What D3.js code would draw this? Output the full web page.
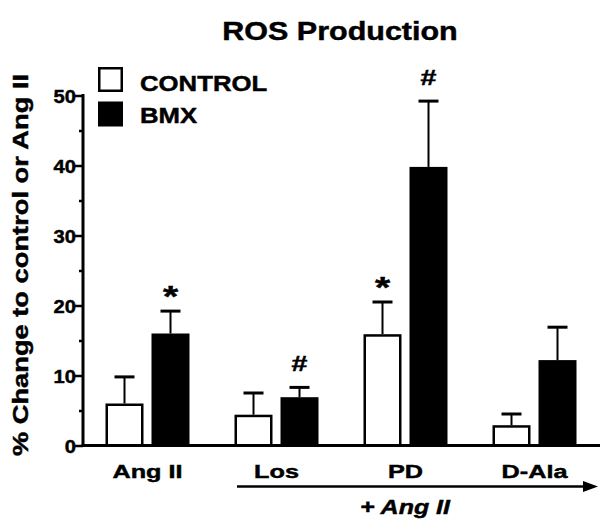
<!DOCTYPE html>
<html>
<head>
<meta charset="utf-8">
<script src="https://cdn.jsdelivr.net/npm/d3@7"></script>
<style>
html,body{margin:0;padding:0;background:#fff;}
svg{display:block;}
text{font-family:"Liberation Sans",Arial,Helvetica,sans-serif;font-weight:bold;fill:#000;stroke:#000;stroke-width:0.45px;}
</style>
</head>
<body>
<svg id="chart" width="600" height="522"></svg>
<script>
// ---- data ----
const categories = ["Ang II", "Los", "PD", "D-Ala"];
const seriesNames = ["CONTROL", "BMX"];
const controlValues = [6.0, 4.4, 15.9, 2.9];
const controlErrors = [3.8, 3.1, 4.6, 1.6];
const bmxValues = [16.0, 6.9, 39.8, 12.2];
const bmxErrors = [3.2, 1.4, 9.4, 4.7];
const yTicks = [0, 10, 20, 30, 40, 50];
const annotations = [
  {cat: "Ang II", series: "BMX", mark: "*"},
  {cat: "Los", series: "BMX", mark: "#"},
  {cat: "PD", series: "CONTROL", mark: "*"},
  {cat: "PD", series: "BMX", mark: "#"}
];
const titleText = "ROS Production";
const yLabel = "% Change to control or Ang II";
const groupLabel = "+ Ang II";

const rows = [];
categories.forEach((c, i) => {
  rows.push({cat: c, series: "CONTROL", value: controlValues[i], err: controlErrors[i]});
  rows.push({cat: c, series: "BMX", value: bmxValues[i], err: bmxErrors[i]});
});
const fillOf = {CONTROL: "#fff", BMX: "#000"};

const svg = d3.select("#chart");

function addText(g, str, x, y, size, stretch, anchor, extra) {
  const t = g.append("text")
    .attr("transform", `translate(${x},${y})` + (extra || "") + ` scale(${stretch},1)`)
    .attr("text-anchor", anchor || "start")
    .style("font-size", size + "px")
    .text(str);
  return t;
}

// ---- scales ----
const y = d3.scaleLinear().domain([0, 50]).range([445.5, 95.5]);
const x0 = d3.scaleBand().domain(categories).range([83, 599]).paddingInner(0).paddingOuter(0);
const groupW = 84;
const x1 = d3.scaleBand().domain(seriesNames).range([0, groupW]).paddingInner(0.174).paddingOuter(0);
const barX = d => x0(d.cat) + (x0.bandwidth() - groupW) / 2 + x1(d.series);
const barC = d => barX(d) + x1.bandwidth() / 2;

// ---- bars ----
const sw = 2.5;
svg.append("g").selectAll("rect").data(rows).join("rect")
  .attr("x", d => barX(d) + sw / 2)
  .attr("width", x1.bandwidth() - sw)
  .attr("y", d => y(d.value) + sw / 2)
  .attr("height", d => y(0) - y(d.value) - sw / 2)
  .attr("fill", d => fillOf[d.series])
  .attr("stroke", "#000")
  .attr("stroke-width", sw);

// ---- error bars ----
const eb = svg.append("g");
eb.selectAll("line.v").data(rows).join("line").attr("class", "v")
  .attr("x1", barC).attr("x2", barC)
  .attr("y1", d => y(d.value)).attr("y2", d => y(d.value + d.err))
  .attr("stroke", "#000").attr("stroke-width", 2);
eb.selectAll("line.c").data(rows).join("line").attr("class", "c")
  .attr("x1", d => barC(d) - 10).attr("x2", d => barC(d) + 10)
  .attr("y1", d => y(d.value + d.err)).attr("y2", d => y(d.value + d.err))
  .attr("stroke", "#000").attr("stroke-width", 3);

// ---- axes ----
const yAxis = d3.axisLeft(y).tickValues(d3.range(0, 51, 5)).tickSize(0).tickFormat("");
const ya = svg.append("g").attr("transform", "translate(83,0)").call(yAxis);
ya.select(".domain").remove();
ya.selectAll(".tick line")
  .attr("x1", d => (d % 10 === 0 ? -8 : -4)).attr("x2", 0)
  .attr("stroke", "#000").attr("stroke-width", 2.5);
svg.append("line").attr("x1", 83).attr("x2", 83).attr("y1", y(50) - 1.5).attr("y2", y(0) + 1.5)
  .attr("stroke", "#000").attr("stroke-width", 3);
svg.append("line").attr("x1", 81.5).attr("x2", 600).attr("y1", y(0)).attr("y2", y(0))
  .attr("stroke", "#000").attr("stroke-width", 3);

const tl = svg.append("g");
yTicks.forEach(v => addText(tl, String(v), 76, y(v) + 7, 18, 1.12, "end"));

// x labels
const xl = svg.append("g");
categories.forEach(c => addText(xl, c, x0(c) + x0.bandwidth() / 2, 478, 19, 1.33, "middle"));

// arrow
svg.append("line").attr("x1", 237).attr("x2", 588).attr("y1", 486.5).attr("y2", 486.5)
  .attr("stroke", "#000").attr("stroke-width", 2.5);
svg.append("path").attr("d", "M598,486.5 L583,481 L583,492 Z").attr("fill", "#000");
addText(svg, groupLabel, 405, 514, 20, 1.25, "middle").style("font-style", "italic");

// annotations
const ag = svg.append("g");
annotations.forEach(a => {
  const d = rows.find(r => r.cat === a.cat && r.series === a.series);
  const top = y(d.value + d.err);
  if (a.mark === "*") addText(ag, a.mark, barC(d), top - 5, 30, 1.3, "middle");
  else addText(ag, a.mark, barC(d), top - 16, 22, 1.3, "middle");
});

// title
addText(svg, titleText, 340, 40, 25, 1.22, "middle");

// y label
addText(svg, yLabel, 28, 265, 22, 1.24, "middle", " rotate(-90)");

// legend
const lg = svg.append("g");
seriesNames.forEach((s, i) => {
  lg.append("rect").attr("x", 99.25).attr("y", 68.25 + i * 34.5).attr("width", 22.5).attr("height", 22.5)
    .attr("fill", fillOf[s]).attr("stroke", "#000").attr("stroke-width", 2.5);
  addText(lg, s, 140, 91 + i * 32, 22, 1.17, "start");
});
</script>
</body>
</html>
